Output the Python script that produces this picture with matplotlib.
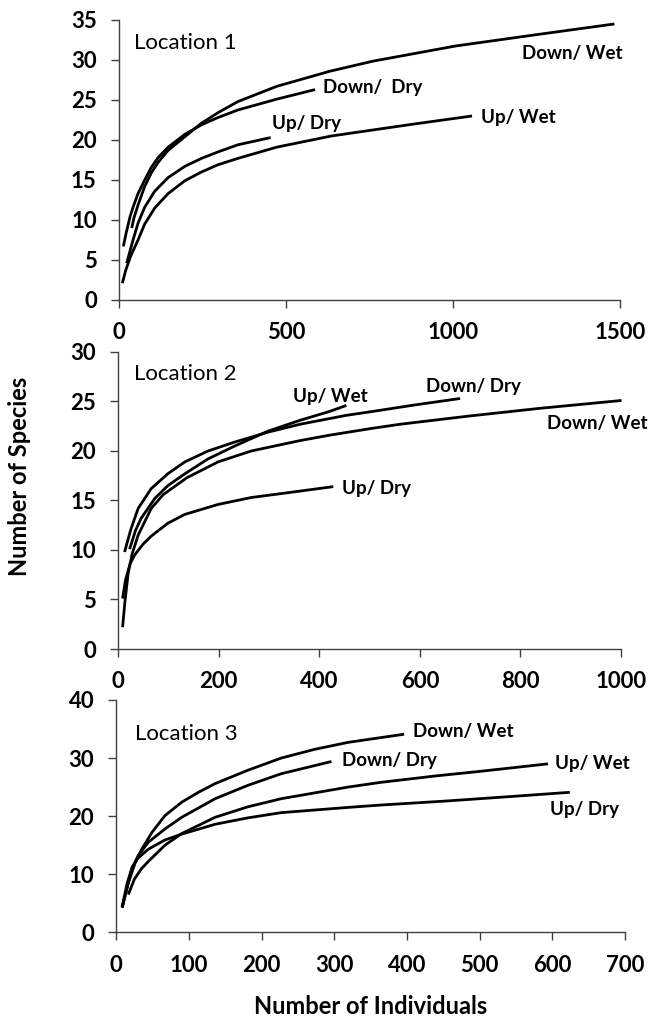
import matplotlib.pyplot as plt

plt.rcParams['font.family'] = ['Lato', 'DejaVu Sans']

# Location 1 rarefaction curves
loc1_down_wet_x = [38, 45, 58, 77, 97, 117, 147, 197, 247, 296, 356, 472, 632, 760, 1008, 1256, 1483]
loc1_down_wet_y = [9.0, 10.3, 12.0, 14.2, 15.9, 17.2, 18.7, 20.4, 22.1, 23.4, 24.8, 26.7, 28.6, 29.85, 31.75, 33.2, 34.5]
loc1_down_dry_x = [13, 21, 33, 42, 57, 77, 97, 117, 147, 197, 247, 296, 356, 472, 587]
loc1_down_dry_y = [6.7, 8.3, 10.4, 11.6, 13.3, 15.0, 16.6, 17.8, 19.1, 20.7, 21.9, 22.8, 23.75, 25.1, 26.3]
loc1_up_dry_x = [23, 42, 57, 77, 107, 147, 197, 247, 296, 356, 454]
loc1_up_dry_y = [4.6, 7.5, 9.6, 11.6, 13.6, 15.3, 16.7, 17.7, 18.5, 19.4, 20.3]
loc1_up_wet_x = [10, 20, 35, 57, 77, 107, 147, 197, 247, 296, 356, 472, 636, 884, 1057]
loc1_up_wet_y = [2.1, 3.7, 5.5, 7.5, 9.5, 11.5, 13.3, 14.9, 16.0, 16.9, 17.7, 19.1, 20.5, 22.0, 23.0]

# Location 2
loc2_down_dry_x = [13, 25, 40, 66, 99, 133, 179, 232, 298, 362, 454, 507, 590, 680]
loc2_down_dry_y = [9.8, 12.0, 14.2, 16.2, 17.7, 18.9, 20.0, 20.9, 21.9, 22.7, 23.6, 24.0, 24.65, 25.3]
loc2_up_wet_x = [23, 35, 46, 73, 99, 133, 179, 232, 298, 362, 421, 454]
loc2_up_wet_y = [10.1, 12.0, 13.2, 15.2, 16.5, 17.7, 19.2, 20.5, 22.0, 23.1, 24.0, 24.6]
loc2_down_wet_x = [9, 14, 20, 28, 40, 66, 90, 137, 199, 265, 362, 421, 507, 561, 693, 837, 1001]
loc2_down_wet_y = [2.2, 4.9, 7.6, 9.6, 11.5, 14.2, 15.6, 17.3, 18.9, 20.0, 21.05, 21.6, 22.3, 22.7, 23.5, 24.3, 25.1]
loc2_up_dry_x = [9, 15, 24, 33, 50, 66, 99, 133, 199, 265, 362, 428]
loc2_up_dry_y = [5.1, 7.0, 8.6, 9.5, 10.6, 11.4, 12.7, 13.6, 14.6, 15.3, 15.95, 16.4]

# Location 3
loc3_down_wet_x = [8, 16.5, 26, 35, 49, 67, 90, 113, 136, 181, 227, 273, 319, 396]
loc3_down_wet_y = [4.2, 8.5, 12.0, 14.3, 17.2, 20.1, 22.4, 24.1, 25.6, 27.9, 30.0, 31.5, 32.7, 34.1]
loc3_down_dry_x = [8, 21, 30, 44, 67, 90, 136, 181, 227, 296]
loc3_down_dry_y = [4.3, 10.8, 13.2, 15.5, 17.8, 19.8, 23.0, 25.3, 27.3, 29.4]
loc3_up_wet_x = [16.5, 25, 35, 44, 67, 90, 136, 181, 227, 319, 363, 438, 500, 594]
loc3_up_wet_y = [6.5, 9.2, 11.0, 12.2, 15.0, 17.0, 19.8, 21.6, 23.0, 25.0, 25.8, 26.9, 27.7, 29.0]
loc3_up_dry_x = [8, 15, 22, 30, 44, 67, 90, 136, 181, 227, 319, 363, 454, 546, 624]
loc3_up_dry_y = [4.4, 8.5, 11.3, 12.8, 14.3, 15.9, 16.9, 18.6, 19.7, 20.6, 21.5, 21.9, 22.6, 23.4, 24.1]

# curve label text and where it sits (data coords)
loc1_labels = [('Down/ Wet', 1207, 30.75), ('Down/  Dry', 611, 26.6), ('Up/ Dry', 458, 22.1), ('Up/ Wet', 1084, 22.8)]
loc2_labels = [('Up/ Wet', 347, 25.5), ('Down/ Dry', 613, 26.5), ('Down/ Wet', 852, 22.8), ('Up/ Dry', 446, 16.2)]
loc3_labels = [('Down/ Wet', 408, 34.5), ('Down/ Dry', 310, 29.5), ('Up/ Wet', 604, 29.1), ('Up/ Dry', 597, 21.1)]

fig = plt.figure(figsize=(6.51, 10.19), dpi=100)
ax1 = fig.add_axes([0.1828, 0.7056, 0.7696, 0.2748])
ax2 = fig.add_axes([0.1813, 0.3631, 0.7727, 0.2915])
ax3 = fig.add_axes([0.1787, 0.0851, 0.7814, 0.2280])


def style_axis(ax, xmax, xstep, ymax, ystep):
    ax.set_xlim(0, xmax)
    ax.set_ylim(0, ymax)
    ax.set_xticks(range(0, xmax + 1, xstep))
    ax.set_yticks(range(0, ymax + 1, ystep))
    for side in ['top', 'right']:
        ax.spines[side].set_visible(False)
    for side in ['left', 'bottom']:
        ax.spines[side].set_color('#404040')
        ax.spines[side].set_linewidth(1.0)
    ax.tick_params(direction='out', length=6, width=1.0, color='#404040', pad=10,
                   labelsize=16)
    for lab in ax.get_xticklabels() + ax.get_yticklabels():
        lab.set_fontweight('bold')


def draw_panel(ax, curves, labels, title, title_pos):
    for xs, ys in curves:
        ax.plot(xs, ys, color='black', lw=2.0, clip_on=False, solid_capstyle='butt',
                solid_joinstyle='round')
    for txt, x, y in labels:
        ax.text(x, y, txt, fontsize=13.5, fontweight='bold', ha='left', va='center')
    ax.text(title_pos[0], title_pos[1], title, fontsize=16, ha='left', va='center')


draw_panel(ax1, [(loc1_down_wet_x, loc1_down_wet_y), (loc1_down_dry_x, loc1_down_dry_y),
                 (loc1_up_dry_x, loc1_up_dry_y), (loc1_up_wet_x, loc1_up_wet_y)],
           loc1_labels, 'Location 1', (45, 32.1))
style_axis(ax1, 1500, 500, 35, 5)

draw_panel(ax2, [(loc2_down_dry_x, loc2_down_dry_y), (loc2_up_wet_x, loc2_up_wet_y),
                 (loc2_down_wet_x, loc2_down_wet_y), (loc2_up_dry_x, loc2_up_dry_y)],
           loc2_labels, 'Location 2', (32, 27.8))
style_axis(ax2, 1000, 200, 30, 5)

draw_panel(ax3, [(loc3_down_wet_x, loc3_down_wet_y), (loc3_down_dry_x, loc3_down_dry_y),
                 (loc3_up_wet_x, loc3_up_wet_y), (loc3_up_dry_x, loc3_up_dry_y)],
           loc3_labels, 'Location 3', (25.7, 34.1))
style_axis(ax3, 700, 100, 40, 10)

# shared axis titles
fig.text(0.030, 1 - 476 / 1019, 'Number of Species', rotation=90, ha='center', va='center',
         fontsize=17, fontweight='bold')
fig.text(371 / 651, 1 - 1006 / 1019, 'Number of Individuals', ha='center', va='center',
         fontsize=17, fontweight='bold')

fig.savefig('out.png', dpi=100)
